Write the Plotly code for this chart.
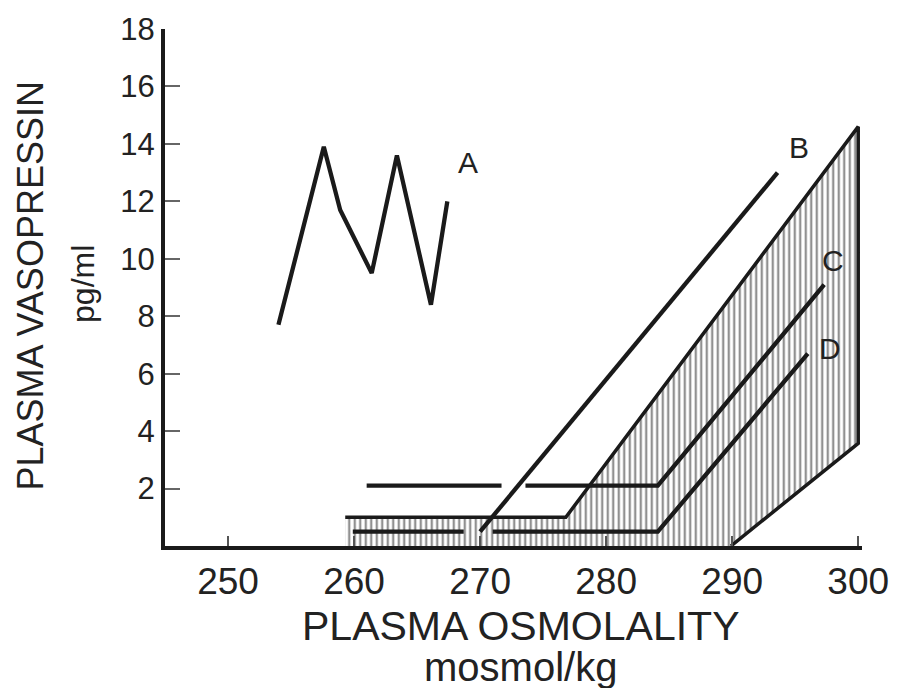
import plotly.graph_objects as go

# ---- data ----
A_x = [254.0, 257.6, 258.9, 261.4, 263.4, 266.1, 267.4]
A_y = [7.7, 13.9, 11.7, 9.5, 13.6, 8.4, 12.0]

B_x = [270.0, 293.6]
B_y = [0.5, 13.0]

C_x = [261.0, 271.7, None, 273.6, 284.1, 297.3]
C_y = [2.1, 2.1, None, 2.1, 2.1, 9.1]

D_x = [259.9, 268.7, None, 271.0, 284.1, 296.0]
D_y = [0.5, 0.5, None, 0.5, 0.5, 6.7]

# hatched normal range
H_x = [259.3, 259.3, 276.8, 300.0, 300.0, 289.9, 259.3]
H_y = [0.0, 1.0, 1.0, 14.6, 3.57, 0.0, 0.0]
Hb_x = [259.3, 276.8, 300.0, 300.0, 289.9]
Hb_y = [1.0, 1.0, 14.6, 3.57, 0.0]

labels = ["A", "B", "C", "D"]
label_x = [269.0, 295.3, 298.0, 297.8]
label_y = [13.35, 13.87, 9.95, 6.87]

x_ticks = [250, 260, 270, 280, 290, 300]
y_ticks = [2, 4, 6, 8, 10, 12, 14, 16, 18]

x_title = "PLASMA OSMOLALITY"
x_unit = "mosmol/kg"
y_title = "PLASMA VASOPRESSIN"
y_unit = "pg/ml"

# ---- layout geometry ----
W, H = 901, 688
L, R, T, B = 165, 31, 27, 142
pw, ph = W - L - R, H - T - B
FONT = "Liberation Sans, Arial, sans-serif"
INK = "#1a1a1a"

def px_x(px):
    return (px - L) / pw

def px_y(py):
    return (H - B - py) / ph

fig = go.Figure()

fig.add_trace(go.Scatter(
    x=H_x, y=H_y, mode="lines", fill="toself",
    line=dict(width=0, color="rgba(0,0,0,0)"),
    fillcolor="white",
    fillpattern=dict(shape="|", size=5.5, solidity=0.42,
                     fgcolor="#222", bgcolor="white"),
    hoverinfo="skip", showlegend=False))

fig.add_trace(go.Scatter(x=Hb_x, y=Hb_y, mode="lines",
                         line=dict(color=INK, width=3.5), showlegend=False))

for xs, ys in [(A_x, A_y), (B_x, B_y), (C_x, C_y), (D_x, D_y)]:
    fig.add_trace(go.Scatter(x=xs, y=ys, mode="lines",
                             line=dict(color=INK, width=4.3),
                             connectgaps=False, showlegend=False))

for t, lx, ly in zip(labels, label_x, label_y):
    fig.add_annotation(x=lx, y=ly, text=t, showarrow=False,
                       font=dict(family=FONT, size=30, color="#222"),
                       xanchor="center", yanchor="middle")

ann = [
    (x_title, 525, 626, 41, 0),
    (x_unit, 525, 667, 40, 0),
    (y_title, 28, 285, 36, -90),
    (y_unit, 82, 283, 32, -90),
]
for txt, cx, cy, fs, ang in ann:
    fig.add_annotation(xref="paper", yref="paper", x=px_x(cx), y=px_y(cy),
                       text=txt, showarrow=False, textangle=ang,
                       font=dict(family=FONT, size=fs, color="#222"),
                       xanchor="center", yanchor="middle")

fig.update_xaxes(range=[245, 300.3], tickvals=x_ticks,
                 ticktext=[str(v) for v in x_ticks],
                 showline=True, linewidth=4, linecolor=INK,
                 ticks="inside", ticklen=10, tickwidth=1.5, tickcolor="#555",
                 showgrid=False, zeroline=False, ticklabeloverflow="allow",
                 tickfont=dict(family=FONT, size=37, color="#222"))
fig.update_yaxes(range=[0, 18], tickvals=y_ticks,
                 ticktext=[str(v) for v in y_ticks],
                 showline=True, linewidth=4, linecolor=INK,
                 ticks="inside", ticklen=15, tickwidth=1.5, tickcolor="#666",
                 showgrid=False, zeroline=False,
                 tickfont=dict(family=FONT, size=31, color="#222"))

fig.update_layout(width=W, height=H,
                  margin=dict(l=L, r=R, t=T, b=B, pad=0),
                  paper_bgcolor="white", plot_bgcolor="white",
                  showlegend=False)

fig.write_html("out.html")
